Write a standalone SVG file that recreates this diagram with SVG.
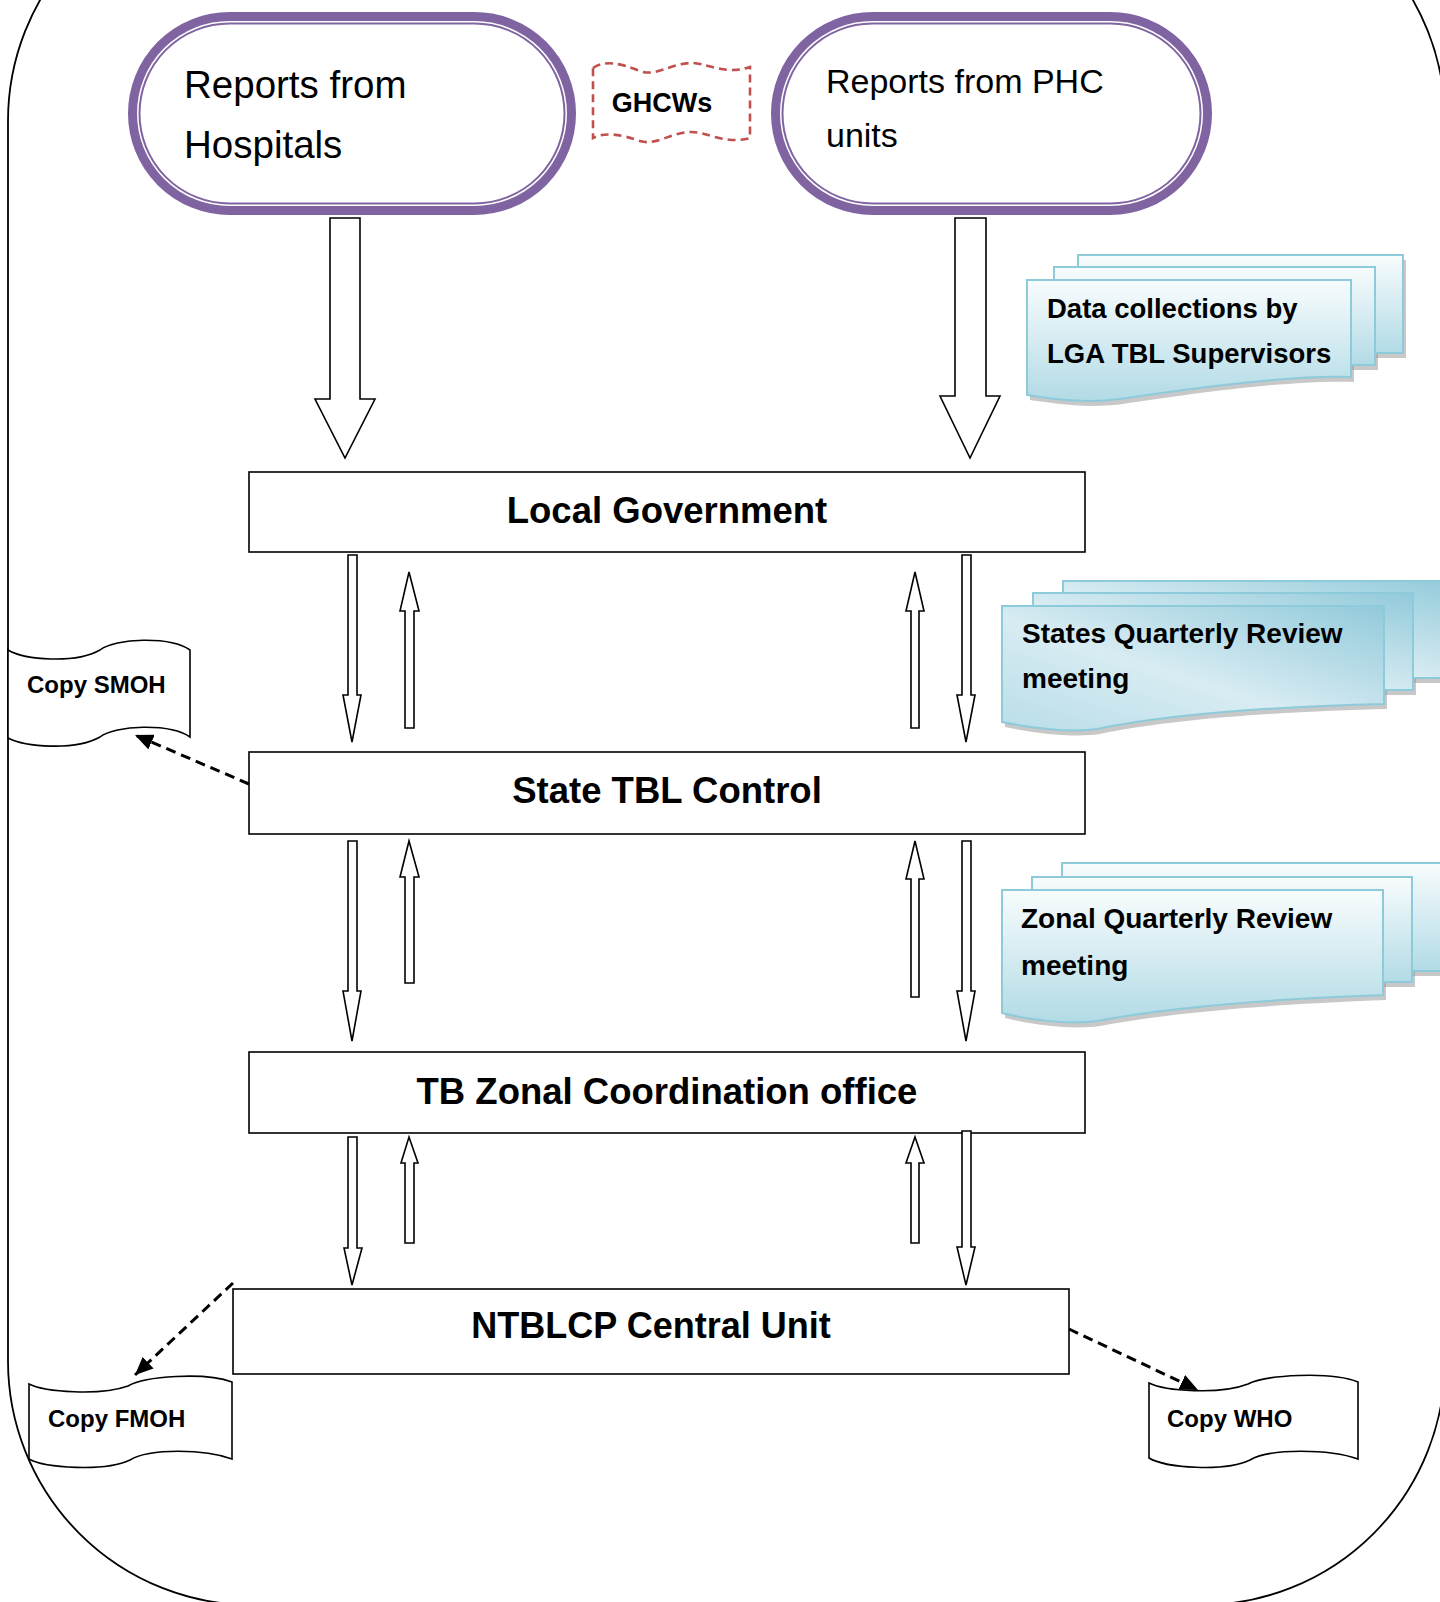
<svg xmlns="http://www.w3.org/2000/svg" width="1440" height="1602" viewBox="0 0 1440 1602">
<style>
  .t { font-family: "Liberation Sans", Arial, sans-serif; fill: #000; }
  .b { font-weight: bold; }
  .box { fill: #fff; stroke: #000; stroke-width: 1.6; }
  .pillO { fill: #fff; stroke: #8064A2; stroke-width: 9; }
  .pillI { fill: none; stroke: #8064A2; stroke-width: 2; }
  .harrow { fill: #fff; stroke: #000; stroke-width: 1.6; stroke-linejoin: miter; }
  .dash { fill: none; stroke: #000; stroke-width: 3; stroke-dasharray: 10 6; }
  .doc { stroke: #8DCADA; stroke-width: 2; }
  .shadow { fill: #9a9a9a; opacity: 0.55; }
  .tape { fill: #fff; stroke: #000; stroke-width: 1.6; }
</style>
<defs>
  <linearGradient id="gV" x1="0" y1="0" x2="0" y2="1">
    <stop offset="0" stop-color="#F8FCFD"/>
    <stop offset="1" stop-color="#B2DBE6"/>
  </linearGradient>
  <linearGradient id="gD" x1="0" y1="1" x2="1" y2="0">
    <stop offset="0" stop-color="#B9DEE8"/>
    <stop offset="0.45" stop-color="#D8ECF3"/>
    <stop offset="1" stop-color="#92CADA"/>
  </linearGradient>
  <marker id="ah" markerWidth="20" markerHeight="16" refX="18" refY="8" orient="auto" markerUnits="userSpaceOnUse">
    <path d="M0,0 L18,8 L0,16 Z" fill="#000"/>
  </marker>
</defs>

<rect x="0" y="0" width="1440" height="1602" fill="#fff"/>

<g id="frame">
  <path d="M8,121 A244,244 0 0 1 252,-123 H1201 A244,244 0 0 1 1445,121 V1361 A244,244 0 0 1 1201,1605 H252 A244,244 0 0 1 8,1361 Z" fill="none" stroke="#000" stroke-width="1.8"/>
</g>

<g id="node-hospitals">
  <rect class="pillO" x="132.5" y="16.5" width="439" height="194" rx="97"/>
  <rect class="pillI" x="139.5" y="23.5" width="425" height="180" rx="90"/>
  <text class="t" x="184" y="98" font-size="38.5">Reports from</text>
  <text class="t" x="184" y="158" font-size="38.5">Hospitals</text>
</g>

<g id="node-ghcws">
  <path d="M593,68 C605,60 620,63 640,71 C655,77 670,64 690,63 C705,62 725,76 750,67 V138 C725,145 705,131 690,132 C670,133 655,146 640,141 C620,134 605,132 593,138 Z" fill="#fff" stroke="#C0504D" stroke-width="2.6" stroke-dasharray="8 5"/>
  <text class="t b" x="662" y="112" font-size="27" text-anchor="middle">GHCWs</text>
</g>

<g id="node-phc">
  <rect class="pillO" x="775.5" y="16.5" width="432" height="194" rx="97"/>
  <rect class="pillI" x="782.5" y="23.5" width="418" height="180" rx="90"/>
  <text class="t" x="826" y="93" font-size="34">Reports from PHC</text>
  <text class="t" x="826" y="147" font-size="34">units</text>
</g>

<g id="node-data-collections">
  <g transform="translate(3,5)">
    <rect class="shadow" x="1078" y="255" width="325" height="98"/>
    <rect class="shadow" x="1054" y="267" width="321" height="98"/>
    <path class="shadow" d="M1027,280 H1351 V377 C1290,374 1180,390 1120,399 C1080,404 1050,398 1027,395 Z"/>
  </g>
  <rect class="doc" fill="url(#gV)" x="1078" y="255" width="325" height="98"/>
  <rect class="doc" fill="url(#gV)" x="1054" y="267" width="321" height="98"/>
  <path class="doc" fill="url(#gV)" d="M1027,280 H1351 V377 C1290,374 1180,390 1120,399 C1080,404 1050,398 1027,395 Z"/>
  <text class="t b" x="1047" y="318" font-size="27.5">Data collections by</text>
  <text class="t b" x="1047" y="363" font-size="27.5">LGA TBL Supervisors</text>
</g>

<g id="node-local-government">
  <rect class="box" x="249" y="472" width="836" height="80"/>
  <text class="t b" x="667" y="523" font-size="36.5" text-anchor="middle">Local Government</text>
</g>

<g id="node-states-review">
  <g transform="translate(3,5)">
    <rect class="shadow" x="1063" y="581" width="400" height="97"/>
    <rect class="shadow" x="1033" y="593" width="380" height="97"/>
    <path class="shadow" d="M1002,606 H1384 V704 C1300,706 1180,712 1097,729 C1070,733 1030,728 1002,722 Z"/>
  </g>
  <rect class="doc" fill="url(#gD)" x="1063" y="581" width="400" height="97"/>
  <rect class="doc" fill="url(#gD)" x="1033" y="593" width="380" height="97"/>
  <path class="doc" fill="url(#gD)" d="M1002,606 H1384 V704 C1300,706 1180,712 1097,729 C1070,733 1030,728 1002,722 Z"/>
  <text class="t b" x="1022" y="643" font-size="28">States Quarterly Review</text>
  <text class="t b" x="1022" y="688" font-size="28">meeting</text>
</g>

<g id="node-copy-smoh">
  <path class="tape" d="M8,650 C25,660 75,664 100,650 C115,638 170,636 190,650 V737 C170,723 115,725 100,737 C75,751 25,747 8,738 Z"/>
  <text class="t b" x="27" y="693" font-size="24">Copy SMOH</text>
</g>

<g id="node-state-tbl">
  <rect class="box" x="249" y="752" width="836" height="82"/>
  <text class="t b" x="667" y="803" font-size="36.5" text-anchor="middle">State TBL Control</text>
</g>

<g id="node-zonal-review">
  <g transform="translate(3,5)">
    <rect class="shadow" x="1062" y="863" width="400" height="108"/>
    <rect class="shadow" x="1032" y="877" width="380" height="105"/>
    <path class="shadow" d="M1002,890 H1383 V995 C1300,998 1180,1005 1097,1021 C1070,1025 1030,1020 1002,1013 Z"/>
  </g>
  <rect class="doc" fill="url(#gV)" x="1062" y="863" width="400" height="108"/>
  <rect class="doc" fill="url(#gV)" x="1032" y="877" width="380" height="105"/>
  <path class="doc" fill="url(#gV)" d="M1002,890 H1383 V995 C1300,998 1180,1005 1097,1021 C1070,1025 1030,1020 1002,1013 Z"/>
  <text class="t b" x="1021" y="928" font-size="28">Zonal Quarterly Review</text>
  <text class="t b" x="1021" y="975" font-size="28">meeting</text>
</g>

<g id="node-zonal-office">
  <rect class="box" x="249" y="1052" width="836" height="81"/>
  <text class="t b" x="667" y="1104" font-size="36.5" text-anchor="middle">TB Zonal Coordination office</text>
</g>

<g id="node-ntblcp">
  <rect class="box" x="233" y="1289" width="836" height="85"/>
  <text class="t b" x="651" y="1338" font-size="36" text-anchor="middle">NTBLCP Central Unit</text>
</g>

<g id="node-copy-fmoh">
  <path class="tape" d="M29,1384 C45,1392 100,1396 128,1386 C145,1376 205,1372 232,1382 V1459 C205,1449 150,1448 130,1460 C105,1472 45,1468 29,1459 Z"/>
  <text class="t b" x="48" y="1427" font-size="24">Copy FMOH</text>
</g>

<g id="node-copy-who">
  <path class="tape" d="M1149,1383 C1165,1391 1220,1395 1248,1384 C1265,1375 1330,1371 1358,1382 V1459 C1330,1449 1270,1448 1250,1460 C1225,1472 1165,1468 1149,1458 Z"/>
  <text class="t b" x="1167" y="1427" font-size="24">Copy WHO</text>
</g>

<g id="connectors">
  <path class="harrow" d="M330,218 H360 V399 H375 L345,458 L315,399 H330 Z"/>
  <path class="harrow" d="M955,218 H986 V396 H1000 L970,458 L940,396 H955 Z"/>

  <path class="harrow" d="M348,555 H357 V695 H361 L352,742 L343,695 H348 Z"/>
  <path class="harrow" d="M405,728 H414 V611 H419 L409,572 L400,611 H405 Z"/>
  <path class="harrow" d="M911,728 H919 V611 H924 L915,572 L906,611 H911 Z"/>
  <path class="harrow" d="M962,555 H971 V695 H975 L966,742 L957,695 H962 Z"/>

  <path class="harrow" d="M348,841 H357 V991 H361 L352,1041 L343,991 H348 Z"/>
  <path class="harrow" d="M405,983 H414 V877 H419 L409,841 L400,877 H405 Z"/>
  <path class="harrow" d="M911,997 H919 V879 H924 L915,841 L906,879 H911 Z"/>
  <path class="harrow" d="M962,841 H971 V991 H975 L966,1041 L957,991 H962 Z"/>

  <path class="harrow" d="M348,1137 H357 V1248 H362 L352,1285 L344,1248 H348 Z"/>
  <path class="harrow" d="M405,1243 H414 V1163 H418 L409,1137 L401,1163 H405 Z"/>
  <path class="harrow" d="M911,1243 H919 V1163 H924 L915,1137 L906,1163 H911 Z"/>
  <path class="harrow" d="M962,1131 H971 V1247 H975 L966,1285 L957,1247 H962 Z"/>

  <line class="dash" x1="249" y1="784" x2="135" y2="735" marker-end="url(#ah)"/>
  <line class="dash" x1="233" y1="1283" x2="135" y2="1375" marker-end="url(#ah)"/>
  <line class="dash" x1="1069" y1="1329" x2="1198" y2="1390" marker-end="url(#ah)"/>
</g>
</svg>
